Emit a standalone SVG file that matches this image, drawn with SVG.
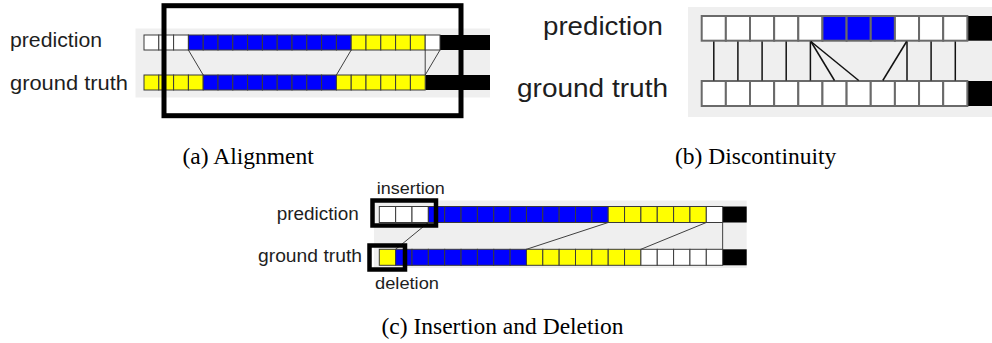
<svg xmlns="http://www.w3.org/2000/svg" width="992" height="343" viewBox="0 0 992 343">
<style>
.bg{fill:#efefef}
.ca{stroke:#3a3a3a;stroke-width:1}
.cb{stroke:#6a6a6a;stroke-width:2}
.w{fill:#ffffff}.b{fill:#0000ff}.y{fill:#ffff00}.k{fill:#000000}
.lbl{font-family:"Liberation Sans",Arial,sans-serif;fill:#1e1e1e}
.cap{font-family:"Liberation Serif","Times New Roman",serif;fill:#000;font-size:23.5px}
.la{stroke:#404040;stroke-width:1;fill:none}
.lb{stroke:#111;stroke-width:1.5;fill:none}
.box{fill:none;stroke:#000}
</style>
<rect width="992" height="343" fill="#fff"/>

<!-- Panel (a) -->
<g id="panel-a">
<rect class="bg" x="135.5" y="28.5" width="354.5" height="69"/>
<text class="lbl" x="10" y="47" font-size="20" textLength="92" lengthAdjust="spacingAndGlyphs">prediction</text>
<text class="lbl" x="10" y="89.5" font-size="20" textLength="118" lengthAdjust="spacingAndGlyphs">ground truth</text>
<g id="a-prediction">
<rect class="k" x="440" y="35" width="50" height="15"/>
<rect class="ca w" x="144" y="35" width="14.8" height="15"/>
<rect class="ca w" x="158.8" y="35" width="14.8" height="15"/>
<rect class="ca w" x="173.6" y="35" width="14.8" height="15"/>
<rect class="ca b" x="188.4" y="35" width="14.8" height="15"/>
<rect class="ca b" x="203.2" y="35" width="14.8" height="15"/>
<rect class="ca b" x="218" y="35" width="14.8" height="15"/>
<rect class="ca b" x="232.8" y="35" width="14.8" height="15"/>
<rect class="ca b" x="247.6" y="35" width="14.8" height="15"/>
<rect class="ca b" x="262.4" y="35" width="14.8" height="15"/>
<rect class="ca b" x="277.2" y="35" width="14.8" height="15"/>
<rect class="ca b" x="292" y="35" width="14.8" height="15"/>
<rect class="ca b" x="306.8" y="35" width="14.8" height="15"/>
<rect class="ca b" x="321.6" y="35" width="14.8" height="15"/>
<rect class="ca b" x="336.4" y="35" width="14.8" height="15"/>
<rect class="ca y" x="351.2" y="35" width="14.8" height="15"/>
<rect class="ca y" x="366" y="35" width="14.8" height="15"/>
<rect class="ca y" x="380.8" y="35" width="14.8" height="15"/>
<rect class="ca y" x="395.6" y="35" width="14.8" height="15"/>
<rect class="ca y" x="410.4" y="35" width="14.8" height="15"/>
<rect class="ca w" x="425.2" y="35" width="14.8" height="15"/>
</g>
<g id="a-ground-truth">
<rect class="k" x="425.2" y="75" width="64.8" height="15"/>
<rect class="ca y" x="144" y="75" width="14.8" height="15"/>
<rect class="ca y" x="158.8" y="75" width="14.8" height="15"/>
<rect class="ca y" x="173.6" y="75" width="14.8" height="15"/>
<rect class="ca y" x="188.4" y="75" width="14.8" height="15"/>
<rect class="ca b" x="203.2" y="75" width="14.8" height="15"/>
<rect class="ca b" x="218" y="75" width="14.8" height="15"/>
<rect class="ca b" x="232.8" y="75" width="14.8" height="15"/>
<rect class="ca b" x="247.6" y="75" width="14.8" height="15"/>
<rect class="ca b" x="262.4" y="75" width="14.8" height="15"/>
<rect class="ca b" x="277.2" y="75" width="14.8" height="15"/>
<rect class="ca b" x="292" y="75" width="14.8" height="15"/>
<rect class="ca b" x="306.8" y="75" width="14.8" height="15"/>
<rect class="ca b" x="321.6" y="75" width="14.8" height="15"/>
<rect class="ca y" x="336.4" y="75" width="14.8" height="15"/>
<rect class="ca y" x="351.2" y="75" width="14.8" height="15"/>
<rect class="ca y" x="366" y="75" width="14.8" height="15"/>
<rect class="ca y" x="380.8" y="75" width="14.8" height="15"/>
<rect class="ca y" x="395.6" y="75" width="14.8" height="15"/>
<rect class="ca y" x="410.4" y="75" width="14.8" height="15"/>
</g>
<g id="a-connectors">
<line class="la" x1="188.4" y1="50" x2="203.2" y2="75"/>
<line class="la" x1="351.2" y1="50" x2="336.4" y2="75"/>
<line class="la" x1="425.2" y1="50" x2="425.2" y2="75"/>
<line class="la" x1="440" y1="50" x2="425.2" y2="75"/>
</g>
<rect id="a-box" class="box" stroke-width="5" x="164" y="5.7" width="297" height="110"/>
<text class="cap" x="182.5" y="164">(a) Alignment</text>
</g>

<!-- Panel (b) -->
<g id="panel-b">
<rect class="bg" x="688" y="7" width="304" height="110"/>
<text class="lbl" x="543" y="35" font-size="26" textLength="120" lengthAdjust="spacingAndGlyphs">prediction</text>
<text class="lbl" x="517" y="97" font-size="26" textLength="151" lengthAdjust="spacingAndGlyphs">ground truth</text>
<g id="b-prediction">
<rect class="k" x="967.35" y="16" width="25" height="24.7"/>
<rect class="cb w" x="701.7" y="16" width="24.15" height="24.7"/>
<rect class="cb w" x="725.85" y="16" width="24.15" height="24.7"/>
<rect class="cb w" x="750" y="16" width="24.15" height="24.7"/>
<rect class="cb w" x="774.15" y="16" width="24.15" height="24.7"/>
<rect class="cb w" x="798.3" y="16" width="24.15" height="24.7"/>
<rect class="cb b" x="822.45" y="16" width="24.15" height="24.7"/>
<rect class="cb b" x="846.6" y="16" width="24.15" height="24.7"/>
<rect class="cb b" x="870.75" y="16" width="24.15" height="24.7"/>
<rect class="cb w" x="894.9" y="16" width="24.15" height="24.7"/>
<rect class="cb w" x="919.05" y="16" width="24.15" height="24.7"/>
<rect class="cb w" x="943.2" y="16" width="24.15" height="24.7"/>
</g>
<g id="b-ground-truth">
<rect class="k" x="967.35" y="81" width="25" height="25"/>
<rect class="cb w" x="701.7" y="81" width="24.15" height="25"/>
<rect class="cb w" x="725.85" y="81" width="24.15" height="25"/>
<rect class="cb w" x="750" y="81" width="24.15" height="25"/>
<rect class="cb w" x="774.15" y="81" width="24.15" height="25"/>
<rect class="cb w" x="798.3" y="81" width="24.15" height="25"/>
<rect class="cb w" x="822.45" y="81" width="24.15" height="25"/>
<rect class="cb w" x="846.6" y="81" width="24.15" height="25"/>
<rect class="cb w" x="870.75" y="81" width="24.15" height="25"/>
<rect class="cb w" x="894.9" y="81" width="24.15" height="25"/>
<rect class="cb w" x="919.05" y="81" width="24.15" height="25"/>
<rect class="cb w" x="943.2" y="81" width="24.15" height="25"/>
</g>
<g id="b-connectors">
<line class="lb" x1="713.8" y1="41.5" x2="713.8" y2="80.5"/>
<line class="lb" x1="737.9" y1="41.5" x2="737.9" y2="80.5"/>
<line class="lb" x1="762.1" y1="41.5" x2="762.1" y2="80.5"/>
<line class="lb" x1="786.2" y1="41.5" x2="786.2" y2="80.5"/>
<line class="lb" x1="810.4" y1="41.5" x2="810.4" y2="80.5"/>
<line class="lb" x1="810.9" y1="41.5" x2="834.5" y2="80.5"/>
<line class="lb" x1="810.9" y1="41.5" x2="858.7" y2="80.5"/>
<line class="lb" x1="906.6" y1="41.5" x2="882.8" y2="80.5"/>
<line class="lb" x1="907" y1="41.5" x2="907" y2="80.5"/>
<line class="lb" x1="931.1" y1="41.5" x2="931.1" y2="80.5"/>
<line class="lb" x1="955.3" y1="41.5" x2="955.3" y2="80.5"/>
</g>
<text class="cap" x="675" y="163.5">(b) Discontinuity</text>
</g>

<!-- Panel (c) -->
<g id="panel-c">
<rect class="bg" x="374" y="200.5" width="372.7" height="67.5"/>
<text class="lbl" x="376.7" y="194" font-size="17" textLength="68" lengthAdjust="spacingAndGlyphs">insertion</text>
<text class="lbl" x="276.7" y="219.5" font-size="18" textLength="82" lengthAdjust="spacingAndGlyphs">prediction</text>
<text class="lbl" x="258" y="262" font-size="18" textLength="104" lengthAdjust="spacingAndGlyphs">ground truth</text>
<text class="lbl" x="375" y="289" font-size="17" textLength="64" lengthAdjust="spacingAndGlyphs">deletion</text>
<g id="c-prediction">
<rect class="k" x="722.65" y="206.5" width="24.05" height="16"/>
<rect class="ca w" x="379.3" y="206.5" width="16.35" height="16"/>
<rect class="ca w" x="395.65" y="206.5" width="16.35" height="16"/>
<rect class="ca w" x="412" y="206.5" width="16.35" height="16"/>
<rect class="ca b" x="428.35" y="206.5" width="16.35" height="16"/>
<rect class="ca b" x="444.7" y="206.5" width="16.35" height="16"/>
<rect class="ca b" x="461.05" y="206.5" width="16.35" height="16"/>
<rect class="ca b" x="477.4" y="206.5" width="16.35" height="16"/>
<rect class="ca b" x="493.75" y="206.5" width="16.35" height="16"/>
<rect class="ca b" x="510.1" y="206.5" width="16.35" height="16"/>
<rect class="ca b" x="526.45" y="206.5" width="16.35" height="16"/>
<rect class="ca b" x="542.8" y="206.5" width="16.35" height="16"/>
<rect class="ca b" x="559.15" y="206.5" width="16.35" height="16"/>
<rect class="ca b" x="575.5" y="206.5" width="16.35" height="16"/>
<rect class="ca b" x="591.85" y="206.5" width="16.35" height="16"/>
<rect class="ca y" x="608.2" y="206.5" width="16.35" height="16"/>
<rect class="ca y" x="624.55" y="206.5" width="16.35" height="16"/>
<rect class="ca y" x="640.9" y="206.5" width="16.35" height="16"/>
<rect class="ca y" x="657.25" y="206.5" width="16.35" height="16"/>
<rect class="ca y" x="673.6" y="206.5" width="16.35" height="16"/>
<rect class="ca y" x="689.95" y="206.5" width="16.35" height="16"/>
<rect class="ca w" x="706.3" y="206.5" width="16.35" height="16"/>
</g>
<g id="c-ground-truth">
<rect class="k" x="722.65" y="249.3" width="24.05" height="16"/>
<rect class="ca y" x="379.3" y="249.3" width="16.35" height="16"/>
<rect class="ca b" x="395.65" y="249.3" width="16.35" height="16"/>
<rect class="ca b" x="412" y="249.3" width="16.35" height="16"/>
<rect class="ca b" x="428.35" y="249.3" width="16.35" height="16"/>
<rect class="ca b" x="444.7" y="249.3" width="16.35" height="16"/>
<rect class="ca b" x="461.05" y="249.3" width="16.35" height="16"/>
<rect class="ca b" x="477.4" y="249.3" width="16.35" height="16"/>
<rect class="ca b" x="493.75" y="249.3" width="16.35" height="16"/>
<rect class="ca b" x="510.1" y="249.3" width="16.35" height="16"/>
<rect class="ca y" x="526.45" y="249.3" width="16.35" height="16"/>
<rect class="ca y" x="542.8" y="249.3" width="16.35" height="16"/>
<rect class="ca y" x="559.15" y="249.3" width="16.35" height="16"/>
<rect class="ca y" x="575.5" y="249.3" width="16.35" height="16"/>
<rect class="ca y" x="591.85" y="249.3" width="16.35" height="16"/>
<rect class="ca y" x="608.2" y="249.3" width="16.35" height="16"/>
<rect class="ca y" x="624.55" y="249.3" width="16.35" height="16"/>
<rect class="ca w" x="640.9" y="249.3" width="16.35" height="16"/>
<rect class="ca w" x="657.25" y="249.3" width="16.35" height="16"/>
<rect class="ca w" x="673.6" y="249.3" width="16.35" height="16"/>
<rect class="ca w" x="689.95" y="249.3" width="16.35" height="16"/>
<rect class="ca w" x="706.3" y="249.3" width="16.35" height="16"/>
</g>
<g id="c-connectors">
<line class="la" x1="428.35" y1="222.5" x2="395.65" y2="249.3"/>
<line class="la" x1="608.2" y1="222.5" x2="526.45" y2="249.3"/>
<line class="la" x1="706.3" y1="222.5" x2="640.9" y2="249.3"/>
<line class="la" x1="722.65" y1="222.5" x2="722.65" y2="249.3"/>
</g>
<rect id="insertion-box" class="box" stroke-width="4.5" x="372.5" y="200.5" width="63.5" height="25"/>
<rect id="deletion-box" class="box" stroke-width="4.5" x="369.5" y="245.5" width="35.5" height="24"/>
<text class="cap" x="381.5" y="333.5">(c) Insertion and Deletion</text>
</g>
</svg>
